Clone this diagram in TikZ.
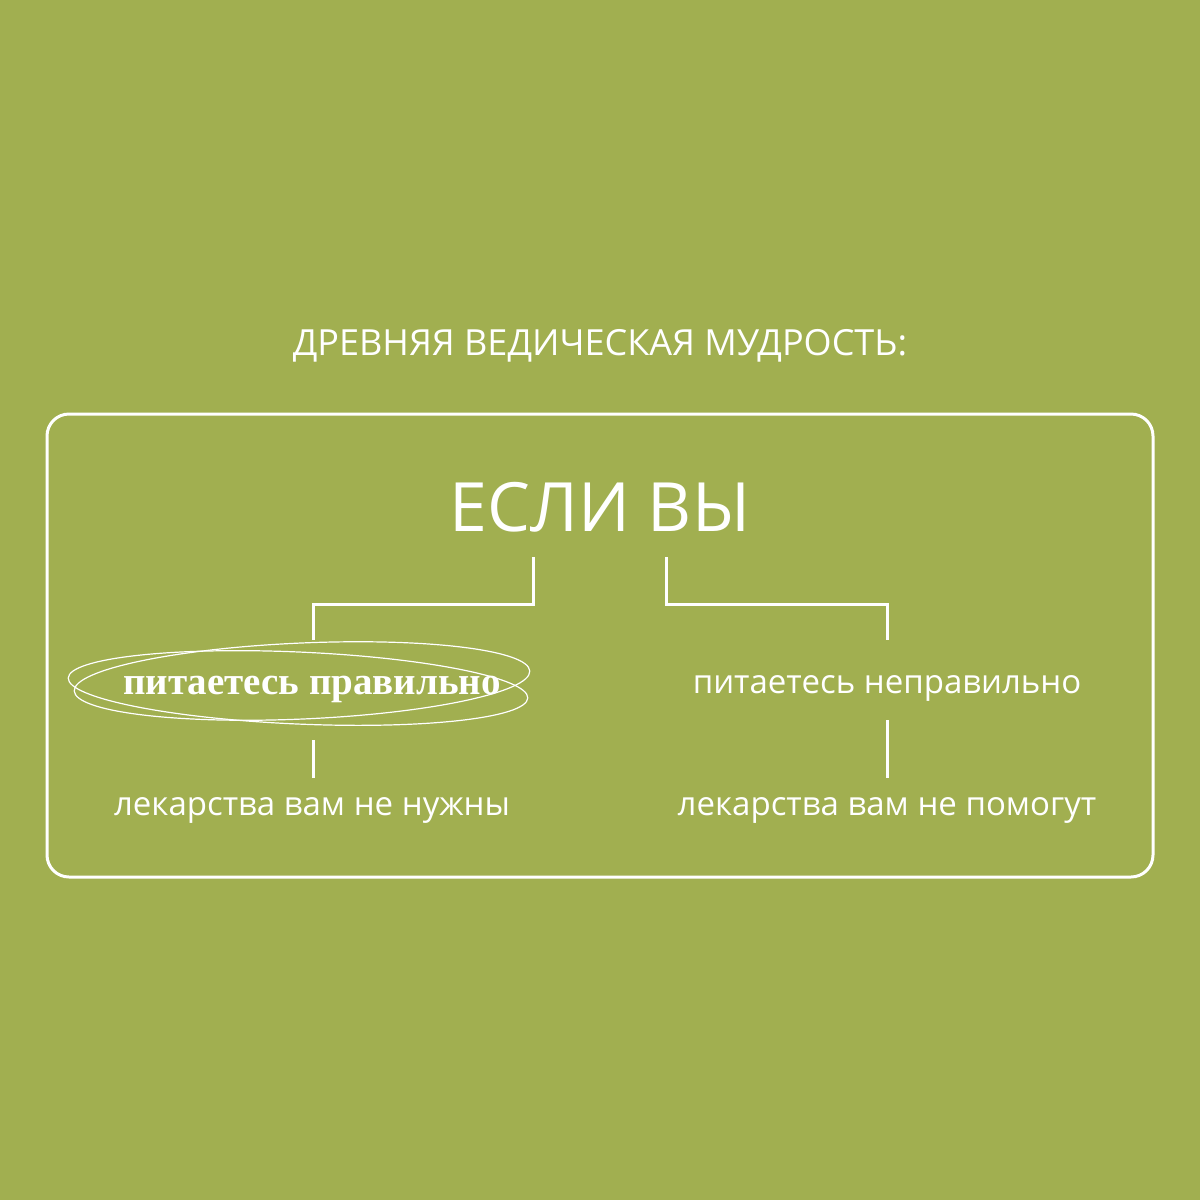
\documentclass[tikz,border=0pt]{standalone}
\usepackage{fontspec}
\setmainfont{Open Sans}
\newfontfamily\serifcyr{Liberation Serif}
\definecolor{bg}{HTML}{A1AF50}
\tikzset{
  wline/.style={draw=white, line width=3pt},
  thinell/.style={draw=white, line width=1.2pt},
  lbl/.style={text=white, inner sep=0pt, anchor=base, font=\fontsize{33}{40}\selectfont},
}
\begin{document}
\begin{tikzpicture}[x=1pt,y=-1pt]
\fill[bg] (0,0) rectangle (1200,1200);
\useasboundingbox (0,0) rectangle (1200,1200);
\node[text=white, inner sep=0pt, anchor=base, font=\fontsize{36}{42}\selectfont] (title) at (600,355) {ДРЕВНЯЯ ВЕДИЧЕСКАЯ МУДРОСТЬ:};
\draw[wline, rounded corners=22pt] (47,414) rectangle (1153,877);
\node[text=white, inner sep=0pt, anchor=base, font=\fontsize{68}{76}\selectfont] (esli) at (600,531) {ЕСЛИ ВЫ};
\coordinate (la) at (533,557);
\coordinate (ra) at (666,557);
\node[text=white, inner sep=0pt, anchor=base, font=\serifcyr\bfseries\fontsize{39}{46}\selectfont] (pr) at (312,694) {питаетесь правильно};
\node[lbl] (npr) at (887,693) {питаетесь неправильно};
\node[lbl] (nuzh) at (312,815) {лекарства вам не нужны};
\node[lbl] (pom) at (887,815) {лекарства вам не помогут};
\coordinate (lb) at (313,640);
\coordinate (rb) at (887,640);
\coordinate (lc) at (313,740);
\coordinate (ld) at (313,778);
\coordinate (rc) at (887,720);
\coordinate (rd) at (887,778);
\draw[wline] (la) -- (533,604) -| (lb);
\draw[wline] (ra) -- (666,604) -| (rb);
\draw[wline] (lc) -- (ld);
\draw[wline] (rc) -- (rd);
\draw[thinell] (302,681) ellipse [x radius=228, y radius=38, rotate=2.5];
\draw[thinell] (298,688) ellipse [x radius=230, y radius=36, rotate=-2.5];
\end{tikzpicture}
\end{document}
